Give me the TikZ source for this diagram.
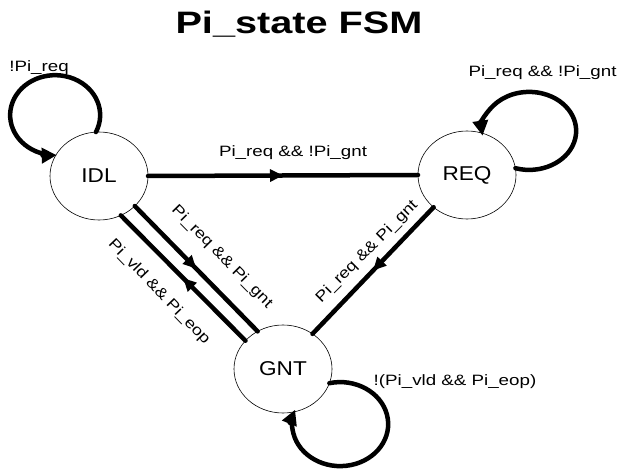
\documentclass[tikz,border=0pt]{standalone}
\usepackage{graphicx}
\usepackage{fontspec}
\setmainfont{Liberation Sans}
\usetikzlibrary{arrows.meta,shapes.geometric,decorations.markings}
\newcommand\widetext[2]{\scalebox{#1}[1]{#2}}
\begin{document}
\begin{tikzpicture}[x=1pt,y=1pt,
  state/.style={ellipse,draw,line width=0.6pt,minimum width=98pt,minimum height=88pt,
    inner sep=0pt,outer sep=0pt,font=\fontsize{20}{24}\selectfont},
  lab/.style={inner sep=0pt,font=\fontsize{15}{18}\selectfont},
  edgeline/.style={line width=4.5pt,line cap=round},
  midarrow/.style={postaction={decorate},decoration={markings,
    mark=at position #1 with {\arrow{Triangle[length=13pt,width=12pt]}}}},
  loopline/.style={line width=4.5pt,line cap=round,-{Triangle[length=15pt,width=15pt]}}
]
\useasboundingbox (0,0) rectangle (617,471);

\node[inner sep=0pt,anchor=base,font=\fontsize{31}{36}\selectfont\bfseries] (title) at (299,437.7)
  {\widetext{1.28}{Pi\_state FSM}};

\node[state] (IDL) at (99,295) {\widetext{1.13}{IDL}};
\node[state] (REQ) at (467,296) {\widetext{1.13}{REQ}};
\node[state] (GNT) at (283,102) {\widetext{1.13}{GNT}};

% straight transitions
\draw[edgeline,midarrow=0.5] (IDL.east) -- (REQ.west);
\draw[edgeline,midarrow=0.5] (REQ.224) -- (GNT.50);
\draw[edgeline,midarrow=0.5] (IDL.-40) -- (GNT.124);
\draw[edgeline,midarrow=0.5] (GNT.143) -- (IDL.-61);

% self loops
\draw[loopline] (IDL.94) arc[start angle=-25,end angle=272,x radius=45,y radius=40];
\draw[loopline] (REQ.8) arc[start angle=-107,end angle=187,x radius=47,y radius=39];
\draw[loopline] (GNT.-17) arc[start angle=103,end angle=-200,x radius=48,y radius=42];

% labels
\node[lab,anchor=base] (lidl) at (39,399.3) {\widetext{1.25}{!Pi\_req}};
\node[lab,anchor=base] (lreq) at (542.5,394.3) {\widetext{1.25}{Pi\_req \&\& !Pi\_gnt}};
\node[lab,anchor=base] (lgnt) at (455,86) {\widetext{1.25}{!(Pi\_vld \&\& Pi\_eop)}};
\node[lab,anchor=base] (lir) at (293,314.3) {\widetext{1.25}{Pi\_req \&\& !Pi\_gnt}};
\node[lab,rotate=45] (lrg) at (367,219) {\widetext{1.2}{Pi\_req \&\& Pi\_gnt}};
\node[lab,rotate=-45.5] (lig) at (222,214) {\widetext{1.2}{Pi\_req \&\& Pi\_gnt}};
\node[lab,rotate=-46] (lgi) at (159,179) {\widetext{1.2}{Pi\_vld \&\& Pi\_eop}};
\end{tikzpicture}
\end{document}
